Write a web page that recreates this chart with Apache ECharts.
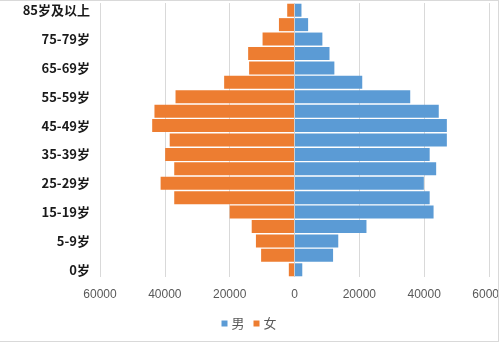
<!DOCTYPE html>
<html>
<head>
<meta charset="utf-8">
<script src="https://cdn.jsdelivr.net/npm/echarts@6/dist/echarts.min.js"></script>
<style>
  html, body { margin: 0; padding: 0; background: #fff; }
  #wrap { position: relative; width: 500px; height: 344px; overflow: hidden; }
  #chart { position: absolute; left: 0; top: 0; width: 498px; height: 344px; }
  #frame { position: absolute; left: -2px; top: 0; width: 501px; height: 342px;
           box-sizing: border-box; border: 1px solid #d9d9d9; pointer-events: none; }
</style>
</head>
<body>
<div id="wrap">
  <div id="chart"></div>
  <div id="frame"></div>
</div>
<script>
// Age groups, youngest first (bottom of the pyramid)
const ageGroups = ['0岁', '1-4岁', '5-9岁', '10-14岁', '15-19岁', '20-24岁', '25-29岁',
  '30-34岁', '35-39岁', '40-44岁', '45-49岁', '50-54岁', '55-59岁', '60-64岁',
  '65-69岁', '70-74岁', '75-79岁', '80-84岁', '85岁及以上'];

// Population by sex
const male = [2400, 11900, 13500, 22200, 42900, 41700, 39900, 43700, 41700, 47000,
  47000, 44500, 35700, 20900, 12300, 10800, 8600, 4200, 2150];
const female = [1750, 10300, 11900, 13200, 20000, 37100, 41300, 37100, 39900, 38500,
  43900, 43200, 36700, 21700, 14000, 14300, 9850, 4800, 2250];

// Value axis ticks
const axisMin = -60000;
const axisMax = 60000;
const axisStep = 20000;

const chart = echarts.init(document.getElementById('chart'), null, { renderer: 'canvas' });

chart.setOption({
  animation: false,
  grid: { left: 100, right: 9, top: 3, bottom: 67, containLabel: false, outerBoundsMode: 'none' },
  legend: {
    data: ['男', '女'],
    left: 'center',
    top: 312,
    itemWidth: 6,
    itemHeight: 6,
    itemGap: 9,
    icon: 'rect',
    textStyle: { color: '#595959', fontSize: 13, fontFamily: 'Noto Sans CJK SC', padding: [0, 0, 0, -1] }
  },
  xAxis: {
    type: 'value',
    min: axisMin,
    max: axisMax,
    interval: axisStep,
    axisLine: { show: false },
    axisTick: { show: false },
    splitLine: { lineStyle: { color: '#d9d9d9', width: 1 } },
    axisLabel: {
      color: '#595959',
      fontSize: 12,
      fontFamily: 'Liberation Sans',
      margin: 12,
      hideOverlap: false,
      formatter: v => String(Math.abs(v))
    }
  },
  yAxis: {
    type: 'category',
    data: ageGroups,
    axisLine: { show: false },
    axisTick: { show: false },
    axisLabel: {
      interval: 1,
      color: '#1a1a1a',
      fontWeight: 'bold',
      fontSize: 13,
      fontFamily: 'Noto Sans CJK SC',
      margin: 10
    }
  },
  series: [
    {
      name: '男',
      type: 'bar',
      stack: 'pop',
      barWidth: 13,
      itemStyle: { color: '#5b9bd5' },
      data: male,
      markLine: {
        silent: true,
        symbol: 'none',
        label: { show: false },
        lineStyle: { color: '#d0d0d0', type: 'solid', width: 1 },
        data: [{ xAxis: 0 }]
      }
    },
    {
      name: '女',
      type: 'bar',
      stack: 'pop',
      barWidth: 13,
      itemStyle: { color: '#ed7d31' },
      data: female.map(v => -v)
    }
  ]
});
</script>
</body>
</html>
